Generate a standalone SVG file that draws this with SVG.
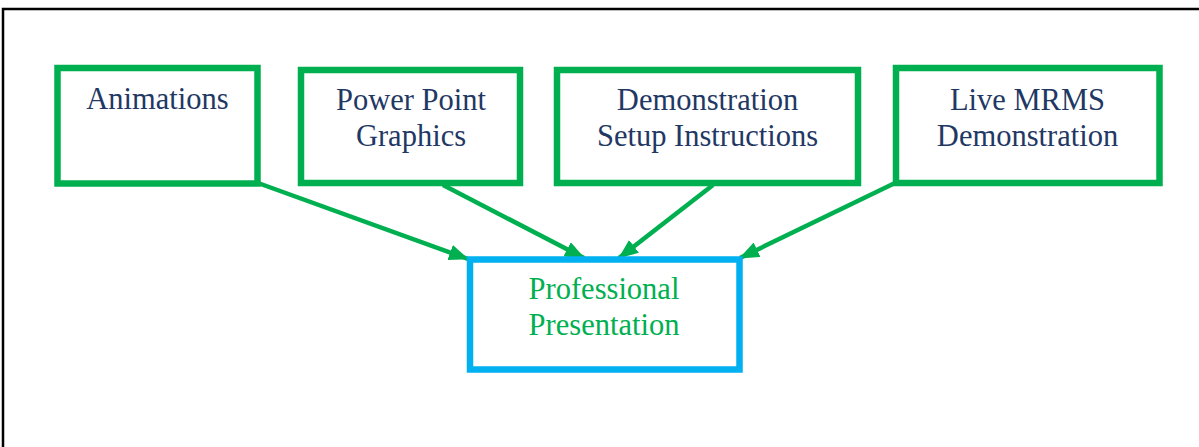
<svg xmlns="http://www.w3.org/2000/svg" width="1199" height="447" viewBox="0 0 1199 447">
<style>
.src{fill:#fff;stroke:#00B050;stroke-width:6.5}
.dst{fill:#fff;stroke:#00B0F0;stroke-width:6.5}
.t{font-family:"Liberation Serif",serif;font-size:30.5px;fill:#1F3864;text-anchor:middle}
.g{fill:#00B050}
.c{stroke:#00B050;stroke-width:4.5;fill:none;marker-end:url(#ah)}
</style>
<defs>
<marker id="ah" markerUnits="userSpaceOnUse" markerWidth="20" markerHeight="16" refX="19" refY="8" orient="auto">
<path d="M0,0 L20,8 L0,16 Z" fill="#00B050"/>
</marker>
</defs>
<rect x="3" y="9" width="1220" height="460" fill="none" stroke="#000" stroke-width="2.5"/>
<g id="connectors">
<line class="c" x1="258" y1="183" x2="468" y2="259"/>
<line class="c" x1="443" y1="185" x2="584" y2="258"/>
<line class="c" x1="713" y1="185" x2="619" y2="258"/>
<line class="c" x1="895" y1="183" x2="740" y2="258"/>
</g>
<g id="animations">
<rect class="src" x="57.5" y="68" width="200" height="115.5"/>
<text class="t" x="157.5" y="109">Animations</text>
</g>
<g id="powerpoint">
<rect class="src" x="301" y="70" width="219" height="113"/>
<text class="t" x="411" y="110">Power Point</text>
<text class="t" x="411" y="146">Graphics</text>
</g>
<g id="setup">
<rect class="src" x="557" y="70" width="301" height="113"/>
<text class="t" x="707.5" y="110">Demonstration</text>
<text class="t" x="707.5" y="146">Setup Instructions</text>
</g>
<g id="live">
<rect class="src" x="896" y="68" width="263.5" height="115"/>
<text class="t" x="1027.5" y="110">Live MRMS</text>
<text class="t" x="1027.5" y="146">Demonstration</text>
</g>
<g id="presentation">
<rect class="dst" x="470" y="259.5" width="269.5" height="110"/>
<text class="t g" x="604" y="299">Professional</text>
<text class="t g" x="604" y="335">Presentation</text>
</g>
</svg>
